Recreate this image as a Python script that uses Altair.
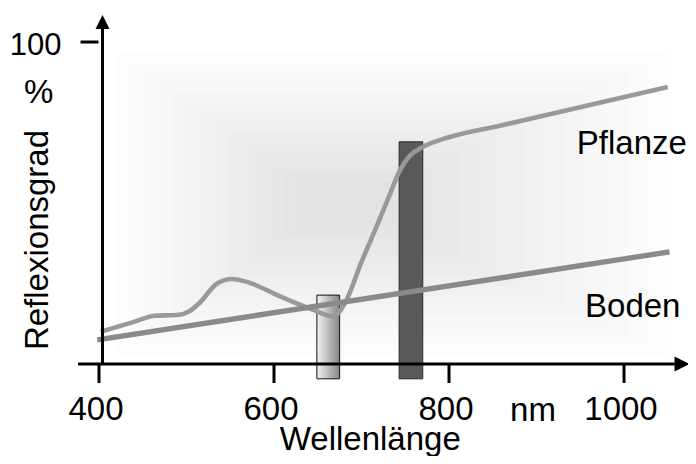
import altair as alt
import pandas as pd

# ---- data ----
pflanze_nm = [402, 439, 464, 489, 504, 515, 535, 552, 569, 607, 645, 668, 681, 700, 718, 733, 744, 755, 770, 801, 858, 1050]
pflanze_pct = [10, 13, 15, 15.2, 16.5, 19, 25, 26.4, 25.5, 21, 16.8, 14.8, 18.9, 31.7, 43.2, 53.1, 60.2, 64.6, 67.4, 70.5, 74, 86]
boden_nm = [398, 1052]
boden_pct = [7.5, 34.8]

band_start = [649, 743]
band_end = [675, 770]
band_top = [21.4, 69]
band_bottom = [-4.6, -4.6]

x_ticks = [400, 600, 800, 1000]
y_ticks = [100]

label_text = ["Pflanze", "Boden", "nm", "Wellenlänge", "%"]
label_x = [1009, 1010, 896, 710, 331]
label_y = [65.2, 14.6, -17.7, -26.6, 81]

ylabel_text = ["Reflexionsgrad"]
ylabel_x = [330]
ylabel_y = [38.5]

# axis line extents (data units)
xaxis_from, xaxis_to = 376, 1058
yaxis_at, yaxis_top = 404, 104
xarrow_at = 1066.3
yarrow_at = 106.2

FONT = "Liberation Sans"
xs = alt.Scale(domain=[296, 1073.14], nice=False, zero=False)
ys = alt.Scale(domain=[-28.57, 110.56], nice=False, zero=False)

lines_df = pd.DataFrame(
    {"nm": pflanze_nm + boden_nm,
     "pct": pflanze_pct + boden_pct,
     "series": ["Pflanze"] * len(pflanze_nm) + ["Boden"] * len(boden_nm)}
)
bands_df = pd.DataFrame({"start": band_start, "end": band_end, "top": band_top,
                         "bottom": band_bottom, "kind": ["rot", "nir"]})
labels_df = pd.DataFrame({"t": label_text, "x": label_x, "y": label_y})
ylabel_df = pd.DataFrame({"t": ylabel_text, "x": ylabel_x, "y": ylabel_y})
axes_df = pd.DataFrame({"x": [xaxis_from, yaxis_at], "x2": [xaxis_to, yaxis_at],
                        "y": [0, 0], "y2": [0, yaxis_top]})
arrow_x_df = pd.DataFrame({"x": [xarrow_at], "y": [0]})
arrow_y_df = pd.DataFrame({"x": [yaxis_at], "y": [yarrow_at]})
xticks_df = pd.DataFrame({"v": x_ticks, "lab": [str(v) for v in x_ticks], "y": [0] * len(x_ticks)})
yticks_df = pd.DataFrame({"v": y_ticks, "lab": [str(v) for v in y_ticks], "x": [yaxis_at] * len(y_ticks)})

# soft grey glow behind the plot: nested translucent boxes (decoration, pixels)
glow_steps = 14
glow = pd.DataFrame({"i": list(range(glow_steps))})
glow["x1"] = 108 + glow["i"] * 14
glow["x2"] = 662 - glow["i"] * 21
glow["y1"] = 44 + glow["i"] * 10
glow["y2"] = 348 - glow["i"] * 10

X = lambda f: alt.X(f, scale=xs, axis=None)
Y = lambda f: alt.Y(f, scale=ys, axis=None)

bg = alt.Chart(glow).mark_rect(color="black", opacity=0.008).encode(
    x=alt.X("x1:Q", scale=None, axis=None), x2="x2:Q",
    y=alt.Y("y1:Q", scale=None, axis=None), y2="y2:Q",
)

light_band = alt.Chart(bands_df).transform_filter(alt.datum.kind == "rot").mark_rect(
    fill=alt.LinearGradient(
        gradient="linear",
        stops=[alt.GradientStop(offset=0, color="#f2f2f2"),
               alt.GradientStop(offset=1, color="#858585")],
        x1=0, y1=0, x2=1, y2=0,
    ),
    stroke="#111111", strokeWidth=1,
).encode(x=X("start:Q"), x2="end:Q", y=Y("top:Q"), y2="bottom:Q")

dark_band = alt.Chart(bands_df).transform_filter(alt.datum.kind == "nir").mark_rect(
    fill="#595959", stroke="#2a2a2a", strokeWidth=1,
).encode(x=X("start:Q"), x2="end:Q", y=Y("top:Q"), y2="bottom:Q")

lines = alt.Chart(lines_df).mark_line(interpolate="monotone", strokeCap="butt").encode(
    x=X("nm:Q"),
    y=Y("pct:Q"),
    color=alt.Color("series:N", scale=alt.Scale(domain=["Pflanze", "Boden"],
                                                range=["#999999", "#8a8a8a"]), legend=None),
    strokeWidth=alt.StrokeWidth("series:N", scale=alt.Scale(domain=["Pflanze", "Boden"],
                                                            range=[4.6, 5.4]), legend=None),
    detail="series:N",
)

axis_lines = alt.Chart(axes_df).mark_rule(color="black", strokeWidth=3).encode(
    x=X("x:Q"), x2="x2:Q", y=Y("y:Q"), y2="y2:Q")

x_tick_marks = alt.Chart(xticks_df).mark_tick(
    orient="vertical", size=19, thickness=3, color="black", opacity=1, yOffset=9.5
).encode(x=X("v:Q"), y=Y("y:Q"))

x_tick_labels = alt.Chart(xticks_df).mark_text(
    font=FONT, fontSize=33, color="black", align="center", baseline="alphabetic", dy=56, dx=-3
).encode(x=X("v:Q"), y=Y("y:Q"), text="lab:N")

y_tick_marks = alt.Chart(yticks_df).mark_tick(
    orient="horizontal", size=18, thickness=3, color="black", opacity=1, xOffset=-13
).encode(x=X("x:Q"), y=Y("v:Q"))

y_tick_labels = alt.Chart(yticks_df).mark_text(
    font=FONT, fontSize=31, color="black", align="right", baseline="middle", dx=-41, dy=4
).encode(x=X("x:Q"), y=Y("v:Q"), text="lab:N")

arrow_x = alt.Chart(arrow_x_df).mark_point(
    shape="M1,0L-1,-1L-1,1Z", filled=True, size=225, color="black", opacity=1, strokeWidth=0
).encode(x=X("x:Q"), y=Y("y:Q"))

arrow_y = alt.Chart(arrow_y_df).mark_point(
    shape="M0,-1L1,1L-1,1Z", filled=True, size=196, color="black", opacity=1, strokeWidth=0
).encode(x=X("x:Q"), y=Y("y:Q"))

texts = alt.Chart(labels_df).mark_text(
    font=FONT, fontSize=33, color="black", align="center", baseline="alphabetic"
).encode(x=X("x:Q"), y=Y("y:Q"), text="t:N")

ytitle = alt.Chart(ylabel_df).mark_text(
    font=FONT, fontSize=33, color="black", align="center", baseline="middle", angle=270
).encode(x=X("x:Q"), y=Y("y:Q"), text="t:N")

chart = alt.layer(
    bg, light_band, dark_band, lines, axis_lines, x_tick_marks, x_tick_labels,
    y_tick_marks, y_tick_labels, arrow_x, arrow_y, texts, ytitle
).properties(
    width=680, height=448, autosize=alt.AutoSizeParams(type="none"), padding=0,
    background="white",
).configure_view(strokeWidth=0)

chart.save("out.html", embed_options={"renderer": "svg", "actions": False})
